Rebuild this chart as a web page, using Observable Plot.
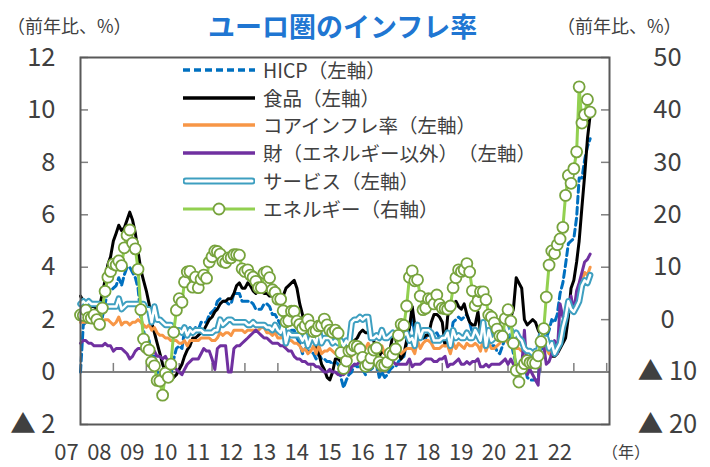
<!DOCTYPE html>
<html><head><meta charset="utf-8">
<script src="https://cdn.jsdelivr.net/npm/d3@7"></script>
<script src="https://cdn.jsdelivr.net/npm/@observablehq/plot@0.6"></script>
<style>
html,body{margin:0;padding:0;background:#fff;}
#chart{position:relative;width:710px;height:467px;font-family:"Noto Sans CJK JP","Noto Sans",sans-serif;color:#404040;overflow:hidden;text-spacing-trim:space-all;}
.unit{position:absolute;top:16px;font-size:18px;line-height:18px;white-space:nowrap;color:#404040;}
#title{position:absolute;left:208px;top:12px;font-size:27px;line-height:27px;font-weight:bold;color:#2076D2;white-space:nowrap;}
#plot{position:absolute;left:0;top:45px;}
#legend{position:absolute;left:183px;top:56px;}
.row{display:flex;align-items:center;height:27.8px;}
.row svg{display:block;margin-right:8px;}
.row span{font-size:19.5px;line-height:20px;white-space:nowrap;color:#404040;text-spacing-trim:space-all;}
#yearLabel{position:absolute;left:602px;top:443px;font-size:16px;line-height:16px;color:#404040;white-space:nowrap;}
</style>
</head><body>
<div id="chart">
  <div class="unit" style="left:7px">（前年比、%）</div>
  <div id="title">ユーロ圏のインフレ率</div>
  <div class="unit" style="left:557px">（前年比、%）</div>
  <div id="plot"></div>
  <div id="legend"></div>
  <div id="yearLabel">（年）</div>
</div>
<script>
// Monthly data, Jan 2007 - Jul 2022 (前年比, %)
const hicp = [
0,1.8,1.9,1.9,1.9,1.9,1.8,1.7,2.1,2.6,3.1,3.1,
3.2,3.3,3.6,3.3,3.7,4.0,4.0,3.8,3.6,3.2,2.1,1.6,
1.1,1.2,0.6,0.6,0.0,-0.1,-0.6,-0.2,-0.3,-0.1,0.5,0.9,
1.0,0.9,1.6,1.6,1.7,1.5,1.7,1.6,1.9,1.9,1.9,2.2,
2.3,2.4,2.7,2.8,2.7,2.7,2.6,2.6,3.0,3.0,3.0,2.7,
2.7,2.7,2.7,2.6,2.4,2.4,2.4,2.6,2.6,2.5,2.2,2.2,
2.0,1.8,1.7,1.2,1.4,1.6,1.6,1.3,1.1,0.7,0.9,0.8,
0.8,0.7,0.5,0.7,0.5,0.5,0.4,0.4,0.3,0.4,0.3,-0.2,
-0.6,-0.3,-0.1,0.0,0.3,0.2,0.2,0.1,-0.1,0.1,0.1,0.2,
0.3,-0.2,0.0,-0.2,-0.1,0.1,0.2,0.2,0.4,0.5,0.6,1.1,
1.7,2.0,1.5,1.9,1.4,1.3,1.3,1.5,1.5,1.4,1.5,1.3,
1.3,1.1,1.4,1.2,1.9,2.0,2.1,2.0,2.1,2.2,1.9,1.5,
1.4,1.5,1.4,1.7,1.2,1.3,1.0,1.0,0.8,0.7,1.0,1.3,
1.4,1.2,0.7,0.3,0.1,0.3,0.4,-0.2,-0.3,-0.3,-0.3,-0.3,
0.9,0.9,1.3,1.6,2.0,1.9,2.2,3.0,3.4,4.1,4.9,5.0,
5.1,5.9,7.4,7.4,8.1,8.6,8.9];

const food = [
2.9,2.7,2.6,2.5,2.5,2.5,2.4,2.5,3.0,3.5,4.1,4.4,
5.0,5.3,5.6,5.4,5.5,5.8,6.1,5.8,5.3,4.6,3.9,3.5,
3.1,2.6,1.9,1.5,1.1,0.7,0.3,0.0,-0.2,-0.3,-0.2,-0.1,
0.1,0.3,0.6,0.85,1.0,1.3,1.3,1.4,1.5,1.6,1.8,2.0,
2.1,2.3,2.4,2.6,2.7,2.7,2.8,2.8,3.0,3.3,3.4,3.2,
3.2,3.4,3.3,3.1,3.0,3.2,3.1,3.0,3.0,2.9,2.9,3.0,
3.0,2.8,2.9,3.2,3.3,3.4,3.5,3.2,2.6,2.2,1.6,1.7,
1.4,1.2,1.0,0.7,0.3,0.1,-0.2,-0.3,0.0,0.5,0.5,0.4,
0.4,0.7,0.9,1.0,1.2,1.3,1.5,1.6,1.5,1.5,1.4,1.2,
0.8,0.6,0.8,0.7,0.8,0.9,1.4,1.3,0.7,0.5,0.7,1.2,
1.7,2.5,1.8,1.5,1.5,1.3,1.4,1.4,1.9,2.2,2.2,2.1,
1.9,1.0,2.1,2.6,2.6,2.7,2.5,2.4,2.6,2.2,1.9,1.8,
1.8,2.3,1.5,1.5,1.6,1.5,1.2,1.5,1.4,1.5,1.9,2.0,
2.3,2.1,2.4,3.6,3.4,3.2,2.0,1.8,1.9,2.0,1.9,1.6,
1.4,1.3,1.0,0.8,0.6,0.6,0.7,0.9,1.1,1.3,2.1,3.2,
3.5,4.2,5.0,6.3,7.5,8.9,9.8];

const core = [
1.9,1.9,1.9,2.0,1.9,1.9,1.9,1.9,1.9,2.0,2.0,1.9,
1.8,1.9,2.1,1.8,1.9,1.9,1.8,1.9,1.9,2.0,1.9,1.8,
1.7,1.8,1.6,1.7,1.5,1.4,1.4,1.3,1.3,1.2,1.2,1.2,
1.1,1.1,1.2,1.0,1.2,1.2,1.2,1.2,1.3,1.3,1.3,1.3,
1.2,1.2,1.3,1.5,1.4,1.5,1.5,1.4,1.6,1.6,1.6,1.6,
1.5,1.6,1.6,1.6,1.6,1.6,1.7,1.7,1.5,1.5,1.4,1.5,
1.3,1.3,1.5,1.0,1.2,1.2,1.1,1.1,1.0,0.8,0.9,0.7,
0.8,1.0,0.7,1.0,0.7,0.8,0.8,0.9,0.8,0.7,0.7,0.6,
0.6,0.7,0.6,0.6,0.9,0.8,1.0,0.9,0.9,1.1,0.9,0.9,
1.0,0.8,1.0,0.7,0.8,0.9,0.9,0.8,0.8,0.7,0.8,0.9,
0.9,0.9,0.7,1.2,0.9,1.1,1.2,1.2,1.1,0.9,0.9,0.9,
1.0,1.0,1.0,0.7,1.1,0.9,1.1,1.0,0.9,1.1,1.0,1.0,
1.1,1.0,0.8,1.3,0.8,1.1,0.9,0.9,1.0,1.1,1.3,1.3,
1.1,1.2,1.0,0.9,0.9,0.8,1.2,0.4,0.2,0.2,0.2,0.2,
1.4,1.1,0.9,0.7,1.0,0.9,0.7,1.6,1.9,2.0,2.6,2.6,
2.3,2.7,2.9,3.5,3.8,3.7,4.0];

const goods = [
1.1,1.2,1.2,1.1,1.1,1.0,1.0,1.0,1.0,1.1,1.0,1.0,
0.8,0.9,0.9,0.9,0.8,0.7,0.5,0.6,0.8,0.9,0.9,0.8,
0.7,0.7,0.7,0.8,0.6,0.6,0.5,0.6,0.4,0.3,0.2,0.1,
0.0,-0.1,0.1,0.3,0.4,0.5,0.5,0.5,0.7,0.9,0.8,0.8,
0.5,0.1,0.9,1.0,1.0,1.0,0.0,0.0,0.9,1.0,1.0,1.1,
1.2,1.3,1.4,1.5,1.6,1.5,1.4,1.3,1.3,1.2,1.1,1.1,
1.1,1.0,1.0,0.9,0.8,0.8,0.6,0.5,0.5,0.4,0.4,0.3,
0.3,0.3,0.2,0.2,0.1,0.0,0.0,0.1,0.0,0.0,-0.1,-0.1,
-0.1,0.0,0.0,0.2,0.3,0.3,0.4,0.4,0.3,0.5,0.5,0.5,
0.7,0.5,0.5,0.5,0.5,0.4,0.4,0.3,0.3,0.3,0.3,0.3,
0.5,0.2,0.3,0.3,0.3,0.4,0.5,0.5,0.5,0.4,0.4,0.5,
0.5,0.6,0.2,0.3,0.3,0.4,0.5,0.3,0.3,0.4,0.3,0.4,
0.4,0.5,0.2,0.2,0.3,0.2,0.3,0.3,0.3,0.3,0.4,0.5,
0.3,0.5,0.3,0.3,0.2,0.2,1.6,-0.1,0.1,-0.1,-0.3,-0.5,
1.5,1.0,0.3,0.4,0.7,1.2,0.7,2.6,2.1,2.0,2.4,2.9,
2.3,3.1,3.4,3.8,4.2,4.3,4.5];

const services = [
2.6,2.7,2.6,2.7,2.6,2.6,2.6,2.6,2.5,2.5,2.5,2.5,
2.5,2.5,2.8,2.4,2.5,2.6,2.6,2.6,2.6,2.6,2.6,2.6,
2.4,2.4,1.9,2.5,2.0,2.0,1.9,1.8,1.8,1.8,1.6,1.6,
1.6,1.5,1.7,1.4,1.6,1.5,1.6,1.6,1.6,1.5,1.5,1.5,
1.5,1.6,1.6,2.0,1.8,1.9,2.0,2.0,1.9,1.9,1.9,1.9,
1.9,1.8,1.8,1.9,1.8,1.8,1.8,1.8,1.7,1.7,1.6,1.8,
1.6,1.5,1.8,1.1,1.5,1.4,1.4,1.4,1.4,1.2,1.4,1.0,
1.3,1.3,1.1,1.6,1.1,1.3,1.3,1.3,1.1,1.2,1.1,1.2,
1.0,1.2,1.0,1.9,2.0,2.0,2.1,2.0,2.1,2.1,1.3,1.3,
1.4,1.3,1.6,1.3,1.3,1.4,1.5,1.4,1.4,1.4,1.4,1.5,
1.2,1.3,1.0,1.8,1.3,1.6,1.6,1.6,1.5,1.2,1.2,1.2,
1.3,1.3,1.5,1.0,1.6,1.3,1.4,1.3,1.3,1.5,1.3,1.3,
1.6,1.4,1.2,1.9,1.0,1.6,1.2,1.3,1.5,1.5,1.9,1.8,
1.5,1.6,1.3,1.5,1.3,1.2,0.9,0.8,0.8,0.7,0.8,0.8,
1.4,1.3,1.3,0.9,1.1,0.7,0.9,1.1,1.7,2.1,2.7,2.4,
2.3,2.5,2.7,3.3,3.5,3.4,3.7];

// right axis (エネルギー)
const energy = [
0.9,0.8,1.8,0.4,0.3,0.9,0.0,-0.9,2.2,5.4,8.1,9.2,
10.6,10.4,11.2,10.3,13.7,16.1,17.1,14.6,13.5,9.6,1.9,-3.7,
-5.3,-5.8,-8.1,-8.8,-11.6,-11.7,-14.4,-10.2,-11.0,-8.5,-2.4,1.8,
4.0,3.3,7.2,9.1,9.2,6.2,8.1,6.1,7.7,8.5,7.9,11.0,
12.0,13.1,13.0,12.5,11.1,10.9,11.8,11.8,12.4,12.4,12.3,9.7,
9.2,9.5,8.5,8.1,7.3,6.1,6.1,8.9,9.1,8.0,5.7,5.2,
3.9,3.9,1.7,-0.4,-0.2,1.6,1.6,-0.3,-0.9,-1.7,-1.1,0.0,
-1.2,-2.3,-2.1,-1.2,-1.1,0.1,-1.0,-2.0,-2.4,-2.0,-2.6,-6.3,
-9.3,-7.9,-6.0,-5.8,-5.0,-5.1,-5.6,-7.2,-8.9,-8.5,-7.3,-5.8,
-5.4,-8.1,-8.7,-8.7,-8.1,-6.4,-6.7,-5.6,-3.0,-0.9,-1.1,2.6,
8.1,9.3,7.4,7.6,4.5,1.9,2.2,4.0,3.9,3.0,4.7,2.9,
2.2,2.1,2.0,2.6,6.1,8.0,9.5,9.2,9.5,10.7,9.1,5.5,
2.7,3.6,5.3,5.3,3.8,0.9,0.5,-0.6,-1.8,-3.1,-3.2,0.2,
1.9,-0.3,-4.5,-9.7,-11.9,-9.3,-8.4,-7.8,-8.2,-8.2,-8.3,-6.9,
-4.2,-1.7,4.3,10.4,13.1,12.6,14.3,15.4,17.6,23.7,27.5,26.0,
28.8,32.0,44.4,37.5,39.1,42.0,39.6];

const leftTicks = [-2, 0, 2, 4, 6, 8, 10, 12];
const rightTicks = [-20, -10, 0, 10, 20, 30, 40, 50];
const yearLabels = ["07","08","09","10","11","12","13","14","15","16","17","18","19","20","21","22"];
const legendLabels = ["HICP（左軸）","食品（左軸）","コアインフレ率（左軸）","財（エネルギー以外）（左軸）","サービス（左軸）","エネルギー（右軸）"];

const months = d3.utcMonth.range(new Date(Date.UTC(2007,0,1)), new Date(Date.UTC(2022,7,1)));
const yearDates = yearLabels.map(s => new Date(Date.UTC(2000 + +s, 0, 1)));
const tickDates = d3.utcYear.range(new Date(Date.UTC(2008,0,1)), new Date(Date.UTC(2024,0,1)));
// right axis value -> left axis units
const toLeft = v => (v + 10) / 5;
const fmt = v => v < 0 ? "▲ " + (-v) : String(v);
const rightByLeft = new Map(rightTicks.map(v => [toLeft(v), v]));

const FONT = '"Noto Sans CJK JP","Noto Sans",sans-serif';
const frameW = 710 - 80 - 101;

const chart = Plot.plot({
  width: 710, height: 422,
  marginTop: 12, marginLeft: 80, marginRight: 101, marginBottom: 43,
  style: {fontFamily: FONT, color: "#404040", background: "transparent", overflow: "visible"},
  x: {type: "utc", domain: [new Date(Date.UTC(2007,0,1)), new Date(Date.UTC(2023,1,1))], axis: null},
  y: {domain: [-2, 12], axis: null},
  marks: [
    Plot.ruleY([0], {stroke: "#808080", strokeWidth: 2}),
    Plot.ruleX(tickDates, {x: d => d, y1: 0, y2: 0.33, stroke: "#808080", strokeWidth: 1.5}),
    Plot.tickY(leftTicks, {y: d => d, insetRight: frameW - 8, stroke: "#808080", strokeWidth: 1.5}),
    Plot.tickY(leftTicks, {y: d => d, insetLeft: frameW - 8, stroke: "#808080", strokeWidth: 1.5}),
    Plot.axisY({anchor: "left", ticks: leftTicks, tickSize: 0, tickPadding: 25, tickFormat: fmt, fontSize: 25.5, label: null, fill: "#404040"}),
    Plot.axisY({anchor: "right", ticks: leftTicks, tickSize: 0, tickPadding: 58, textAnchor: "middle", tickFormat: d => fmt(rightByLeft.get(d)), fontSize: 25.5, label: null, fill: "#404040"}),
    Plot.axisX({ticks: yearDates, tickSize: 0, tickPadding: 20, dx: -14, tickFormat: (d, i) => yearLabels[i], fontSize: 22, label: null, fill: "#404040"}),
    Plot.lineY(hicp, {x: months, y: d => d, stroke: "#0070C0", strokeWidth: 3, strokeDasharray: "7,4"}),
    Plot.lineY(food, {x: months, y: d => d, stroke: "#000000", strokeWidth: 3, strokeLinejoin: "round"}),
    Plot.lineY(core, {x: months, y: d => d, stroke: "#F79646", strokeWidth: 3, strokeLinejoin: "round"}),
    Plot.lineY(goods, {x: months, y: d => d, stroke: "#7030A0", strokeWidth: 3, strokeLinejoin: "round"}),
    Plot.lineY(services, {x: months, y: d => d, stroke: "#3E9FC0", strokeWidth: 6.5, strokeLinejoin: "round"}),
    Plot.lineY(services, {x: months, y: d => d, stroke: "#ffffff", strokeWidth: 2.5, strokeLinejoin: "round"}),
    Plot.lineY(energy, {x: months, y: toLeft, stroke: "#92D050", strokeWidth: 3, strokeLinejoin: "round"}),
    Plot.dot(energy, {x: months, y: toLeft, r: 5.5, fill: "white", stroke: "#77A33D", strokeWidth: 1.8}),
    Plot.frame({stroke: "#595959", strokeWidth: 2})
  ]
});
document.getElementById("plot").appendChild(chart);

// legend (inside plot area)
const swatches = [
  `<line x1="0" y1="7" x2="72" y2="7" stroke="#0070C0" stroke-width="3.5" stroke-dasharray="7,4"/>`,
  `<line x1="0" y1="7" x2="72" y2="7" stroke="#000" stroke-width="3.5"/>`,
  `<line x1="0" y1="7" x2="72" y2="7" stroke="#F79646" stroke-width="3.5"/>`,
  `<line x1="0" y1="7" x2="72" y2="7" stroke="#7030A0" stroke-width="3.5"/>`,
  `<line x1="3" y1="7" x2="69" y2="7" stroke="#3E9FC0" stroke-width="7" stroke-linecap="round"/><line x1="3" y1="7" x2="69" y2="7" stroke="#fff" stroke-width="3" stroke-linecap="round"/>`,
  `<line x1="0" y1="7" x2="72" y2="7" stroke="#92D050" stroke-width="3"/><circle cx="36" cy="7" r="5.5" fill="#fff" stroke="#77A33D" stroke-width="1.8"/>`
];
const leg = document.getElementById("legend");
legendLabels.forEach((lab, i) => {
  const row = document.createElement("div");
  row.className = "row";
  row.innerHTML = `<svg width="72" height="14" viewBox="0 0 72 14">${swatches[i]}</svg><span>${lab}</span>`;
  leg.appendChild(row);
});
</script>
</body></html>
